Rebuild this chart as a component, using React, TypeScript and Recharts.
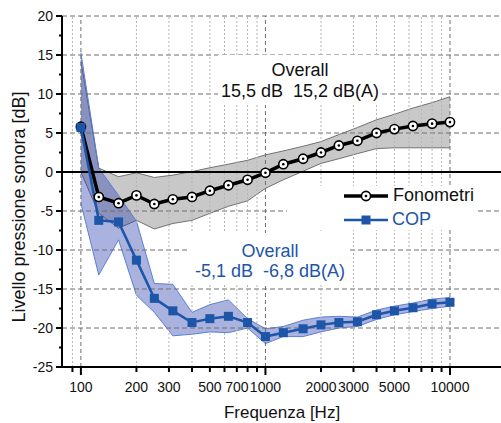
import { ComposedChart, Line, Area, XAxis, YAxis, CartesianGrid, ReferenceLine, Legend } from 'recharts';

// 1/3 octave bands
const FREQS = [100, 125, 160, 200, 250, 315, 400, 500, 630, 800, 1000, 1250, 1600, 2000, 2500, 3150, 4000, 5000, 6300, 8000, 10000];

const FONO = [5.8, -3.2, -4.0, -3.0, -4.1, -3.5, -3.2, -2.4, -1.7, -1.0, -0.1, 1.0, 1.7, 2.5, 3.4, 4.0, 5.0, 5.5, 5.9, 6.2, 6.4];
const FONO_HI = [14.3, 0.5, -0.6, -0.1, -0.7, -0.4, 0.05, 0.55, 1.0, 1.5, 2.2, 2.7, 3.3, 3.9, 4.8, 5.7, 6.7, 7.4, 8.2, 8.9, 9.65];
const FONO_LO = [0.0, -5.3, -7.2, -6.2, -7.3, -6.6, -6.2, -5.3, -4.4, -3.7, -2.1, -1.0, 0.1, 1.1, 1.7, 2.35, 3.0, 3.1, 3.1, 3.1, 3.1];

const COP = [5.7, -6.2, -6.4, -11.3, -16.2, -17.8, -19.3, -18.8, -18.5, -19.3, -21.1, -20.6, -20.1, -19.6, -19.3, -19.2, -18.3, -17.8, -17.4, -16.9, -16.7];
const COP_HI = [15.3, 0.5, -3.0, -6.3, -14.3, -14.4, -18.0, -17.0, -16.4, -18.8, -20.1, -19.8, -19.0, -18.6, -18.5, -18.6, -17.7, -17.2, -16.8, -16.3, -16.1];
const COP_LO = [-4.0, -13.2, -8.7, -15.8, -18.0, -21.0, -20.8, -20.5, -20.6, -20.0, -22.0, -21.1, -21.1, -20.5, -20.0, -19.8, -18.9, -18.3, -17.9, -17.5, -17.2];

const X_TICKS = [90, 100, 200, 300, 400, 500, 600, 700, 800, 900, 1000, 2000, 3000, 4000, 5000, 6000, 7000, 8000, 9000, 10000];
const X_LABELS = [100, 200, 300, 500, 700, 1000, 2000, 3000, 5000, 10000];
const X_MAJOR = [100, 1000, 10000];
const X_MINOR_GRID = [90, 200, 300, 400, 500, 600, 700, 800, 900, 2000, 3000, 4000, 5000, 6000, 7000, 8000, 9000];

const Y_TICKS = [-25, -22.5, -20, -17.5, -15, -12.5, -10, -7.5, -5, -2.5, 0, 2.5, 5, 7.5, 10, 12.5, 15, 17.5, 20];
const Y_GRID = [-20, -15, -10, -5, 5, 10, 15, 20];

const BLUE = '#1d56a9';
const FONT = '"Liberation Sans", Arial, sans-serif';

const data = FREQS.map((f, i) => ({
    f,
    fono: FONO[i],
    fonoBand: [FONO_LO[i], FONO_HI[i]],
    cop: COP[i],
    copBand: [COP_LO[i], COP_HI[i]],
}));

const XTick = (props: any) => {
    const { x, y, payload } = props;
    const v = payload.value;
    const major = X_MAJOR.includes(v);
    return (
        <g>
            <line x1={x} y1={y} x2={x} y2={y + (major ? 8 : 5)} stroke="#000" strokeWidth={2} />
            {X_LABELS.includes(v) && (
                <text x={x} y={y + 20} textAnchor="middle" dominantBaseline="central" fontSize={14} fill="#111" fontFamily={FONT}>
                    {v}
                </text>
            )}
        </g>
    );
};

const YTick = (props: any) => {
    const { x, y, payload } = props;
    const v = payload.value;
    const major = v % 5 === 0;
    return (
        <g>
            <line x1={x - (major ? 6 : 3)} y1={y} x2={x} y2={y} stroke="#000" strokeWidth={2} />
            {major && (
                <text x={x - 9} y={y} textAnchor="end" dominantBaseline="central" fontSize={14} fill="#111" fontFamily={FONT}>
                    {v}
                </text>
            )}
        </g>
    );
};

const RingDot = (props: any) => {
    const { cx, cy } = props;
    return (
        <g>
            <circle cx={cx} cy={cy} r={4.6} fill="#fff" stroke="#000" strokeWidth={1.6} />
            <circle cx={cx} cy={cy} r={1.3} fill="#000" />
        </g>
    );
};

const SquareDot = (props: any) => {
    const { cx, cy } = props;
    return <rect x={cx - 4.5} y={cy - 4.5} width={9} height={9} fill={BLUE} />;
};

const LegendBox = () => (
    <div style={{ background: '#fff', width: 190, height: 44, fontFamily: FONT, fontSize: 18 }}>
        <div style={{ position: 'relative', height: 22 }}>
            <svg width={50} height={22} style={{ position: 'absolute', left: 55, top: 0 }}>
                <line x1={2} y1={10} x2={46} y2={10} stroke="#000" strokeWidth={3.5} />
                <circle cx={24} cy={10} r={4.6} fill="#fff" stroke="#000" strokeWidth={1.6} />
                <circle cx={24} cy={10} r={1.3} fill="#000" />
            </svg>
            <span style={{ position: 'absolute', left: 106, top: -1, color: '#111' }}>Fonometri</span>
        </div>
        <div style={{ position: 'relative', height: 22 }}>
            <svg width={50} height={22} style={{ position: 'absolute', left: 55, top: 0 }}>
                <line x1={2} y1={12} x2={46} y2={12} stroke={BLUE} strokeWidth={2.5} />
                <rect x={19.5} y={7.5} width={9} height={9} fill={BLUE} />
            </svg>
            <span style={{ position: 'absolute', left: 105, top: 1, color: BLUE }}>COP</span>
        </div>
    </div>
);

export default function App() {
    return (
        <div style={{ position: 'absolute', left: 0, top: 0, width: 501, height: 423, background: '#fff', fontFamily: FONT }}>
            <ComposedChart width={501} height={423} data={data} margin={{ top: 16, right: 0, bottom: 0, left: 0 }}>
                <CartesianGrid horizontal={false} vertical={false} />
                {Y_GRID.map((v) => (
                    <ReferenceLine key={`h${v}`} y={v} stroke="#6e6e6e" strokeDasharray="5 3" strokeWidth={1} />
                ))}
                {X_MINOR_GRID.map((v) => (
                    <ReferenceLine key={`v${v}`} x={v} stroke="#b4b4b4" strokeDasharray="2 2" strokeWidth={1} />
                ))}
                {X_MAJOR.map((v) => (
                    <ReferenceLine key={`m${v}`} x={v} stroke="#6e6e6e" strokeDasharray="4 3" strokeWidth={1} />
                ))}
                <ReferenceLine y={0} stroke="#000" strokeWidth={2} />
                <XAxis
                    dataKey="f"
                    type="number"
                    scale="log"
                    domain={[79, 18900]}
                    allowDataOverflow
                    ticks={X_TICKS}
                    interval={0}
                    tick={<XTick />}
                    tickLine={false}
                    tickSize={0}
                    tickMargin={0}
                    height={56}
                    axisLine={{ stroke: '#000', strokeWidth: 2 }}
                />
                <YAxis
                    type="number"
                    domain={[-25, 20]}
                    ticks={Y_TICKS}
                    interval={0}
                    tick={<YTick />}
                    tickLine={false}
                    tickSize={0}
                    tickMargin={0}
                    width={62}
                    axisLine={{ stroke: '#000', strokeWidth: 2 }}
                />
                <Area dataKey="fonoBand" type="linear" fill="#919191" fillOpacity={0.5} stroke="#555" strokeWidth={0.8} isAnimationActive={false} />
                <Area dataKey="copBand" type="linear" fill="#2a3fae" fillOpacity={0.4} stroke="#5b7fd6" strokeWidth={1} isAnimationActive={false} />
                <Line dataKey="fono" type="linear" stroke="#000" strokeWidth={3.5} dot={<RingDot />} activeDot={false} isAnimationActive={false} />
                <Line dataKey="cop" type="linear" stroke={BLUE} strokeWidth={2.5} dot={<SquareDot />} activeDot={false} isAnimationActive={false} />
                <Legend
                    layout="horizontal"
                    verticalAlign="middle"
                    align="center"
                    content={<LegendBox />}
                    wrapperStyle={{ left: 287, top: 186, width: 190, height: 44, right: 'auto', bottom: 'auto' }}
                />
            </ComposedChart>

            <div style={{ position: 'absolute', left: 218, top: 55, width: 164, height: 50, background: '#fff', textAlign: 'center', fontSize: 18, lineHeight: '21.5px', color: '#111', paddingTop: 4.7, boxSizing: 'border-box' }}>
                <div>Overall</div>
                <div style={{ whiteSpace: 'pre' }}>15,5 dB  15,2 dB(A)</div>
            </div>
            <div style={{ position: 'absolute', left: 190, top: 233, width: 160, height: 52, background: '#fff', textAlign: 'center', fontSize: 18, lineHeight: '20px', color: BLUE, paddingTop: 7.5, boxSizing: 'border-box' }}>
                <div>Overall</div>
                <div style={{ whiteSpace: 'pre' }}>-5,1 dB  -6,8 dB(A)</div>
            </div>

            <div style={{ position: 'absolute', left: 19, top: 207, transform: 'translate(-50%, -50%) rotate(-90deg)', whiteSpace: 'nowrap', fontSize: 18, color: '#111' }}>
                Livello pressione sonora [dB]
            </div>
            <div style={{ position: 'absolute', left: 282, top: 413, transform: 'translate(-50%, -50%)', whiteSpace: 'nowrap', fontSize: 17, color: '#111' }}>
                Frequenza [Hz]
            </div>
        </div>
    );
}
